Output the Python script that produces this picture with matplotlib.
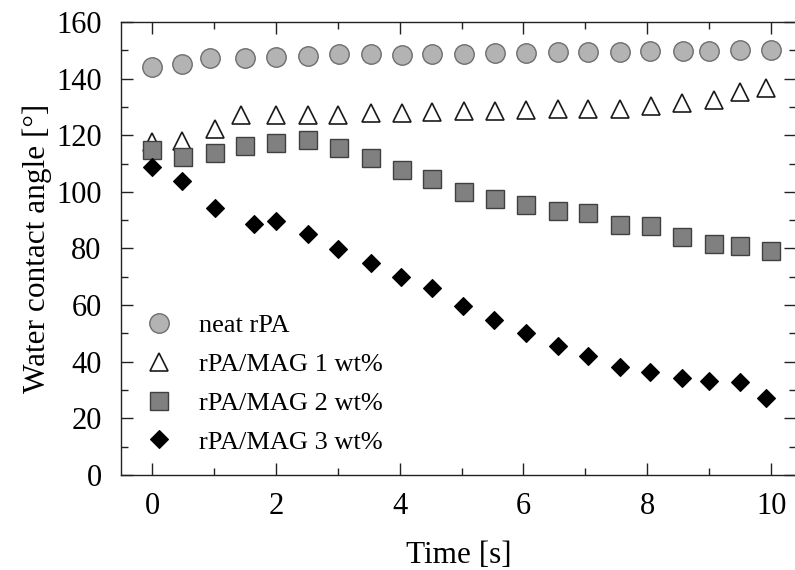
import matplotlib
matplotlib.use("Agg")
import matplotlib.pyplot as plt
from matplotlib.ticker import MultipleLocator

plt.rcParams['font.family'] = ['Liberation Serif', 'DejaVu Serif']
plt.rcParams['mathtext.fontset'] = 'stix'

# contact angle vs time, one array pair per sample
t_neat = [0, 0.49, 0.94, 1.51, 2.01, 2.52, 3.02, 3.53, 4.03, 4.53, 5.04,
          5.54, 6.04, 6.55, 7.04, 7.56, 8.04, 8.57, 8.99, 9.50, 10.0]
wca_neat = [144.1, 145.3, 147.4, 147.3, 147.5, 148.1, 148.7, 148.6, 148.5, 148.6, 148.7,
            149.1, 149.2, 149.3, 149.3, 149.3, 149.8, 149.8, 149.9, 150.1, 150.2]

t_mag1 = [0, 0.49, 1.01, 1.43, 2.01, 2.52, 3.01, 3.53, 4.03, 4.53, 5.04,
          5.54, 6.04, 6.55, 7.04, 7.56, 8.06, 8.56, 9.07, 9.50, 9.92]
wca_mag1 = [117.5, 117.9, 122.2, 127.1, 127.1, 127.3, 127.1, 127.7, 128.0, 128.3, 128.7,
            128.7, 129.0, 129.2, 129.2, 129.4, 130.4, 131.4, 132.6, 135.4, 136.6]

t_mag2 = [0, 0.50, 1.01, 1.51, 2.01, 2.52, 3.02, 3.53, 4.03, 4.53, 5.04,
          5.54, 6.04, 6.55, 7.04, 7.56, 8.06, 8.56, 9.07, 9.50, 10.0]
wca_mag2 = [114.8, 112.3, 113.6, 116.2, 117.2, 118.3, 115.6, 111.8, 107.7, 104.6, 100.0,
            97.5, 95.3, 93.4, 92.4, 88.2, 87.8, 84.1, 81.7, 80.8, 79.1]

t_mag3 = [0, 0.49, 1.01, 1.65, 2.01, 2.52, 3.01, 3.53, 4.02, 4.53, 5.03,
          5.53, 6.04, 6.55, 7.04, 7.56, 8.04, 8.56, 8.99, 9.50, 9.92]
wca_mag3 = [108.7, 103.9, 94.4, 88.7, 89.8, 85.1, 79.7, 75.0, 69.9, 66.2, 59.8,
            54.6, 50.3, 45.6, 42.2, 38.3, 36.2, 34.3, 33.3, 32.7, 27.3]

fig = plt.figure(figsize=(7.95, 5.7), dpi=100)
ax = fig.add_axes([0.1522, 0.1667, 0.849, 0.7947])

ax.plot(t_neat, wca_neat, linestyle='none', marker='o', markersize=14,
        markerfacecolor='#b3b3b3', markeredgecolor='#6e6e6e', markeredgewidth=1.0,
        label='neat rPA')
ax.plot(t_mag1, wca_mag1, linestyle='none', marker='^', markersize=12.5,
        markerfacecolor='white', markeredgecolor='#1a1a1a', markeredgewidth=1.2,
        label='rPA/MAG 1 wt%')
ax.plot(t_mag2, wca_mag2, linestyle='none', marker='s', markersize=13.5,
        markerfacecolor='#808080', markeredgecolor='#404040', markeredgewidth=1.0,
        label='rPA/MAG 2 wt%')
ax.plot(t_mag3, wca_mag3, linestyle='none', marker='D', markersize=9.5,
        markerfacecolor='black', markeredgecolor='black', markeredgewidth=0.8,
        label='rPA/MAG 3 wt%')

ax.set_xlim(-0.5, 10.4)
ax.set_ylim(0, 160)
ax.xaxis.set_major_locator(MultipleLocator(2))
ax.xaxis.set_minor_locator(MultipleLocator(1))
ax.yaxis.set_major_locator(MultipleLocator(20))
ax.yaxis.set_minor_locator(MultipleLocator(10))

ax.tick_params(which='both', direction='in', top=True, right=True,
               color='#222222', width=1.0)
ax.tick_params(which='major', length=8.5, labelsize=22)
ax.tick_params(which='minor', length=5)
ax.tick_params(axis='x', which='major', pad=12)
ax.tick_params(axis='y', which='major', pad=14)
for sp in ax.spines.values():
    sp.set_linewidth(1.0)
    sp.set_color('#222222')

ax.set_xlabel('Time [s]', fontsize=22.5, labelpad=15)
ax.set_ylabel('Water contact angle [°]', fontsize=22.5, labelpad=2.5)

ax.legend(loc='lower left', bbox_to_anchor=(0.0212, 0.0238), frameon=False,
          fontsize=19, handlelength=1.0, handletextpad=1.0,
          labelspacing=0.58, borderaxespad=0.0, numpoints=1)

fig.savefig('out.png', dpi=100)
